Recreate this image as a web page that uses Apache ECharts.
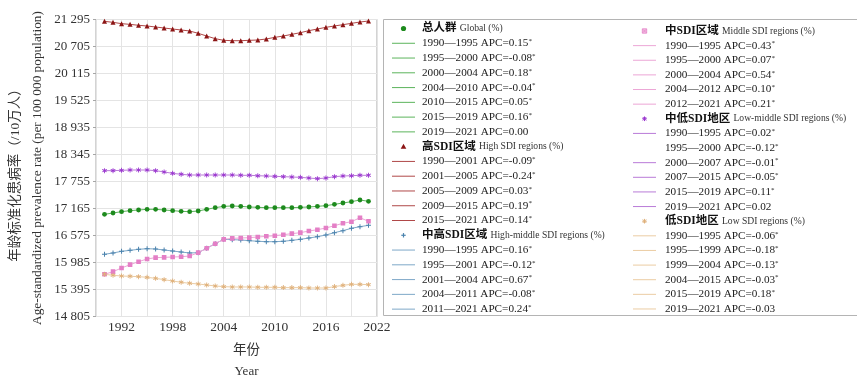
<!DOCTYPE html>
<html>
<head>
<meta charset="utf-8">
<script src="https://cdn.jsdelivr.net/npm/echarts@6/dist/echarts.min.js"></script>
<style>
  html, body { margin: 0; padding: 0; background: #fff; }
  #chart { width: 857px; height: 376px; }
</style>
</head>
<body>
<div id="chart"></div>
<script>
// Years of observation
const years = [1990, 1991, 1992, 1993, 1994, 1995, 1996, 1997, 1998, 1999, 2000,
  2001, 2002, 2003, 2004, 2005, 2006, 2007, 2008, 2009, 2010,
  2011, 2012, 2013, 2014, 2015, 2016, 2017, 2018, 2019, 2020, 2021];

// Age-standardized prevalence rate (per 100 000 population)
const globalRate = [17038, 17067, 17096, 17118, 17132, 17147, 17147, 17132, 17118, 17103, 17096,
  17110, 17147, 17183, 17212, 17220, 17212, 17198, 17191, 17183, 17183,
  17183, 17183, 17191, 17198, 17212, 17227, 17256, 17285, 17314, 17351, 17322];
const highRate = [21255, 21233, 21204, 21189, 21168, 21153, 21131, 21109, 21087, 21066, 21044,
  20993, 20934, 20876, 20840, 20832, 20832, 20840, 20847, 20869, 20905,
  20934, 20971, 21007, 21051, 21087, 21124, 21153, 21182, 21211, 21240, 21262];
const highMiddleRate = [16164, 16193, 16229, 16251, 16273, 16287, 16280, 16258, 16236, 16214, 16193,
  16200, 16295, 16396, 16491, 16484, 16477, 16462, 16448, 16440, 16440,
  16448, 16469, 16491, 16520, 16549, 16586, 16637, 16681, 16732, 16768, 16797];
const middleRate = [15727, 15785, 15865, 15938, 16003, 16062, 16091, 16098, 16105, 16112, 16127,
  16200, 16295, 16396, 16491, 16513, 16520, 16528, 16542, 16557, 16571,
  16593, 16615, 16637, 16673, 16702, 16739, 16789, 16842, 16877, 16964, 16885];
const lowMiddleRate = [17992, 17992, 17999, 18006, 18006, 18006, 17992, 17963, 17933, 17912, 17897,
  17897, 17897, 17897, 17897, 17897, 17890, 17890, 17882, 17875, 17868,
  17861, 17853, 17846, 17831, 17817, 17831, 17861, 17875, 17882, 17890, 17890];
const lowRate = [15727, 15705, 15690, 15683, 15676, 15661, 15639, 15610, 15581, 15552, 15530,
  15516, 15494, 15472, 15458, 15450, 15450, 15450, 15443, 15443, 15443,
  15436, 15436, 15436, 15428, 15428, 15428, 15458, 15486, 15508, 15508, 15501];

// Y axis tick values
const yTicks = [14805, 15395, 15985, 16575, 17165, 17755, 18345, 18935, 19525, 20115, 20705, 21295];

// Legend headings and joinpoint segments (APC, %)
const globalHead = ['总人群', 'Global (%)'];
const globalSegs = ['1990—1995 APC=0.15*', '1995—2000 APC=-0.08*', '2000—2004 APC=0.18*',
  '2004—2010 APC=-0.04*', '2010—2015 APC=0.05*', '2015—2019 APC=0.16*', '2019—2021 APC=0.00'];
const highHead = ['高SDI区域', 'High SDI regions (%)'];
const highSegs = ['1990—2001 APC=-0.09*', '2001—2005 APC=-0.24*', '2005—2009 APC=0.03*',
  '2009—2015 APC=0.19*', '2015—2021 APC=0.14*'];
const highMiddleHead = ['中高SDI区域', 'High-middle SDI regions (%)'];
const highMiddleSegs = ['1990—1995 APC=0.16*', '1995—2001 APC=-0.12*', '2001—2004 APC=0.67*',
  '2004—2011 APC=-0.08*', '2011—2021 APC=0.24*'];
const middleHead = ['中SDI区域', 'Middle SDI regions (%)'];
const middleSegs = ['1990—1995 APC=0.43*', '1995—2000 APC=0.07*', '2000—2004 APC=0.54*',
  '2004—2012 APC=0.10*', '2012—2021 APC=0.21*'];
const lowMiddleHead = ['中低SDI地区', 'Low-middle SDI regions (%)'];
const lowMiddleSegs = ['1990—1995 APC=0.02*', '1995—2000 APC=-0.12*', '2000—2007 APC=-0.01*',
  '2007—2015 APC=-0.05*', '2015—2019 APC=0.11*', '2019—2021 APC=0.02'];
const lowHead = ['低SDI地区', 'Low SDI regions (%)'];
const lowSegs = ['1990—1995 APC=-0.06*', '1995—1999 APC=-0.18*', '1999—2004 APC=-0.13*',
  '2004—2015 APC=-0.03*', '2015—2019 APC=0.18*', '2019—2021 APC=-0.03'];

// Styling
const SERIF = '"Liberation Serif", "Times New Roman", "Noto Sans CJK SC", serif';
const PLUS = 'path://M4,0H6V4H10V6H6V10H4V6H0V4H4Z';
const STAR = 'path://M4.2,0H5.8V3.4L8.7,1.6L9.5,3L6.6,5L9.5,7L8.7,8.4L5.8,6.6V10H4.2V6.6L1.3,8.4L0.5,7L3.4,5L0.5,3L1.3,1.6L4.2,3.4Z';
const BOXX = 'path://M0,0H10V10H0Z M2.2,1.2L5,4L7.8,1.2L8.8,2.2L6,5L8.8,7.8L7.8,8.8L5,6L2.2,8.8L1.2,7.8L4,5L1.2,2.2Z';

const groups = [
  { key: 'high', data: highRate, head: highHead, segs: highSegs, mark: '#8b1414', line: '#b04848', symbol: 'triangle', size: 5 },
  { key: 'lowMiddle', data: lowMiddleRate, head: lowMiddleHead, segs: lowMiddleSegs, mark: '#9a35cf', line: '#b97bd8', symbol: STAR, size: 5 },
  { key: 'global', data: globalRate, head: globalHead, segs: globalSegs, mark: '#1d8a1d', line: '#5cb45c', symbol: 'circle', size: 4.8 },
  { key: 'highMiddle', data: highMiddleRate, head: highMiddleHead, segs: highMiddleSegs, mark: '#4a82ad', line: '#7ea8c8', symbol: PLUS, size: 5 },
  { key: 'middle', data: middleRate, head: middleHead, segs: middleSegs, mark: '#e47fc6', line: '#eca6d6', symbol: BOXX, size: 4.6 },
  { key: 'low', data: lowRate, head: lowHead, segs: lowSegs, mark: '#dfb07a', line: '#ebcca3', symbol: STAR, size: 5 }
];
const byKey = {};
groups.forEach(g => byKey[g.key] = g);

const series = groups.map(g => ({
  name: g.head[1],
  type: 'line',
  data: years.map((y, i) => [y, g.data[i]]),
  symbol: g.symbol,
  symbolSize: g.size,
  showSymbol: true,
  lineStyle: { color: g.line, width: 1 },
  itemStyle: { color: g.mark },
  emphasis: { disabled: true },
  animation: false,
  z: 3
}));

// Legend panel drawn with graphic elements
const graphics = [];
graphics.push({
  type: 'rect', z: 0, shape: { x: 383.5, y: 19.5, width: 490, height: 296 },
  style: { fill: '#fff', stroke: '#b4b4b4', lineWidth: 1 }
});

function segText(s) {
  return s.endsWith('*') ? s.slice(0, -1) + '{s|*}' : s;
}

function markerShape(g, cx, cy) {
  const c = g.mark;
  const z = 7;
  switch (g.key) {
    case 'global': return [{ type: 'circle', z, shape: { cx, cy, r: 2.6 }, style: { fill: c } }];
    case 'high': return [{ type: 'polygon', z, shape: { points: [[cx, cy - 2.8], [cx + 2.8, cy + 2.2], [cx - 2.8, cy + 2.2]] }, style: { fill: c } }];
    case 'highMiddle': return [
      { type: 'line', z, shape: { x1: cx - 2.2, y1: cy, x2: cx + 2.2, y2: cy }, style: { stroke: c, lineWidth: 1.2 } },
      { type: 'line', z, shape: { x1: cx, y1: cy - 2.2, x2: cx, y2: cy + 2.2 }, style: { stroke: c, lineWidth: 1.2 } }];
    case 'middle': return [
      { type: 'rect', z, shape: { x: cx - 2.2, y: cy - 2.2, width: 4.4, height: 4.4 }, style: { fill: '#f3c4e4', stroke: c, lineWidth: 0.8 } },
      { type: 'line', z, shape: { x1: cx - 1.6, y1: cy - 1.6, x2: cx + 1.6, y2: cy + 1.6 }, style: { stroke: c, lineWidth: 0.8 } },
      { type: 'line', z, shape: { x1: cx - 1.6, y1: cy + 1.6, x2: cx + 1.6, y2: cy - 1.6 }, style: { stroke: c, lineWidth: 0.8 } }];
    default: return [
      { type: 'line', z, shape: { x1: cx - 2.3, y1: cy, x2: cx + 2.3, y2: cy }, style: { stroke: c, lineWidth: 1 } },
      { type: 'line', z, shape: { x1: cx, y1: cy - 2.3, x2: cx, y2: cy + 2.3 }, style: { stroke: c, lineWidth: 1 } },
      { type: 'line', z, shape: { x1: cx - 1.7, y1: cy - 1.7, x2: cx + 1.7, y2: cy + 1.7 }, style: { stroke: c, lineWidth: 1 } },
      { type: 'line', z, shape: { x1: cx - 1.7, y1: cy + 1.7, x2: cx + 1.7, y2: cy - 1.7 }, style: { stroke: c, lineWidth: 1 } }];
  }
}

function buildColumn(keys, x0, textX, yStart, step, noKeyRows) {
  let row = 0;
  keys.forEach(k => {
    const g = byKey[k];
    let y = yStart + row * step;
    markerShape(g, x0 + 11.5, y).forEach(el => graphics.push(el));
    graphics.push({
      type: 'text', z: 6, x: textX, y: y,
      style: {
        text: '{cn|' + g.head[0] + '} {en|' + g.head[1] + '}',
        verticalAlign: 'middle', align: 'left',
        rich: {
          cn: { fontFamily: SERIF, fontWeight: 'bold', fontSize: 11.5, fill: '#111' },
          en: { fontFamily: SERIF, fontSize: 9.6, fill: '#333' }
        }
      }
    });
    row++;
    g.segs.forEach((s, j) => {
      y = yStart + row * step;
      const hideKey = noKeyRows.some(r => r[0] === k && r[1] === j);
      if (!hideKey) {
        graphics.push({
          type: 'line', z: 6,
          shape: { x1: x0, y1: y, x2: x0 + 23, y2: y },
          style: { stroke: g.line, lineWidth: 1 }
        });
      }
      graphics.push({
        type: 'text', z: 6, x: textX, y: y,
        style: {
          text: segText(s),
          fontFamily: SERIF, fontSize: 11.2, fill: '#222',
          verticalAlign: 'middle', align: 'left',
          rich: {
            s: { fontFamily: SERIF, fontSize: 7, fill: '#222', verticalAlign: 'top', padding: [0, 0, 4, 0] }
          }
        }
      });
      row++;
    });
  });
}

buildColumn(['global', 'high', 'highMiddle'], 392, 422, 28.5, 14.77, []);
buildColumn(['middle', 'lowMiddle', 'low'], 633, 665, 31, 14.63, [['lowMiddle', 1]]);

// Axis titles
graphics.push({
  type: 'text', x: 15.5, y: 172, rotation: Math.PI / 2, z: 6,
  style: { text: '年龄标准化患病率（/10万人）', fontFamily: SERIF, fontSize: 13.5, fill: '#333',
    align: 'center', verticalAlign: 'middle' }
});
graphics.push({
  type: 'text', x: 38, y: 168, rotation: Math.PI / 2, z: 6,
  style: { text: 'Age-standardized prevalence rate (per 100 000 population)', fontFamily: SERIF, fontSize: 13.3, fill: '#333',
    align: 'center', verticalAlign: 'middle' }
});
graphics.push({
  type: 'text', x: 246.5, y: 350, z: 6,
  style: { text: '年份', fontFamily: SERIF, fontSize: 13.5, fill: '#333', align: 'center', verticalAlign: 'middle' }
});
graphics.push({
  type: 'text', x: 246.5, y: 371.5, z: 6,
  style: { text: 'Year', fontFamily: SERIF, fontSize: 13, fill: '#333', align: 'center', verticalAlign: 'middle' }
});

const chart = echarts.init(document.getElementById('chart'), null, { renderer: 'canvas' });
chart.setOption({
  animation: false,
  backgroundColor: '#fff',
  grid: {
    left: 96, right: 480, top: 19.5, bottom: 59.5,
    show: true, borderColor: '#a6a6a6', borderWidth: 1, backgroundColor: 'transparent',
    containLabel: false
  },
  xAxis: {
    type: 'value', min: 1989, max: 2022, interval: 3,
    axisLine: { show: false },
    axisTick: { show: false },
    splitLine: { show: true, lineStyle: { color: '#e4e4e4', width: 1 } },
    axisLabel: {
      fontFamily: SERIF, fontSize: 13.5, color: '#333', margin: 4,
      showMinLabel: true, showMaxLabel: true,
      formatter: v => ((v - 1992) % 6 === 0 ? String(v) : '')
    }
  },
  yAxis: {
    type: 'value', min: 14805, max: 21295,
    axisLine: { show: false },
    axisTick: { show: true, customValues: yTicks, length: 3, lineStyle: { color: '#a6a6a6' } },
    splitLine: { show: true, lineStyle: { color: '#e4e4e4', width: 1 } },
    axisLabel: {
      customValues: yTicks,
      fontFamily: SERIF, fontSize: 13, color: '#333', margin: 6,
      formatter: v => {
        const s = String(Math.round(v));
        return s.slice(0, s.length - 3) + ' ' + s.slice(-3);
      }
    }
  },
  series: series,
  graphic: graphics
});
</script>
</body>
</html>
